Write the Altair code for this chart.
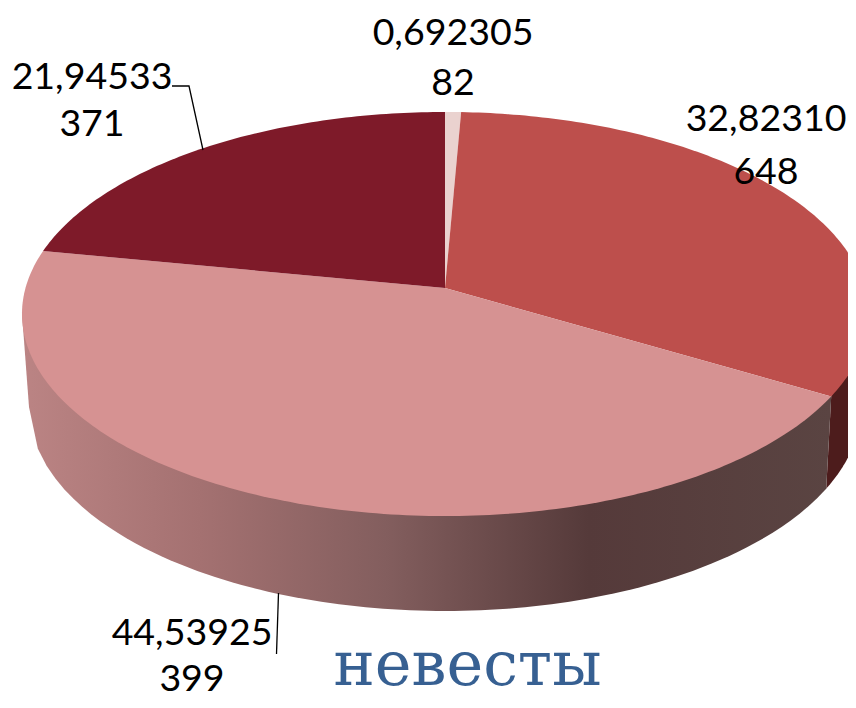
import math
import altair as alt
import pandas as pd

# Data
SHARES = [0.692305, 32.82310, 44.53925, 21.94533]
COUNTS = ["82", "648", "399", "371"]
SHARE_LABELS = ["0,692305", "32,82310", "44,53925", "21,94533"]
TOP_COLORS = ["#ead2cf", "#bd4f4c", "#d69292", "#7e1a29"]
TITLE = "невесты"

# Perspective disc geometry, in the pixel units of the chart's scales
CX, CY = 445.0, 288.0
A, B, C = 419.5, 198.7, 0.1287
BCX, BCY, BRX, BRY = 445.0, 407.0, 416.0, 204.0


def rim(turn):
    a = math.radians(turn)
    u, v = math.sin(a), math.cos(a)
    d = 1 + C * v
    return CX + A * u / d, CY - B * v / d


def bottom_rim(x):
    r = max(0.0, 1 - ((x - BCX) / BRX) ** 2)
    return x, BCY + BRY * math.sqrt(r)


def frame(points):
    pts = list(points) + [points[0]]
    return pd.DataFrame({"x": [p[0] for p in pts], "y": [p[1] for p in pts], "o": range(len(pts))})


X = alt.X("x:Q", scale=alt.Scale(domain=[8, 848]), axis=None)
Y = alt.Y("y:Q", scale=alt.Scale(domain=[700, 8]), axis=None)


def poly(points, fill):
    return (
        alt.Chart(frame(points))
        .mark_line(fill=fill, stroke="transparent", strokeWidth=0, interpolate="linear", clip=True)
        .encode(x=X, y=Y, order="o:Q")
    )


total = sum(SHARES)
edges = [0.0]
for s in SHARES:
    edges.append(edges[-1] + s / total * 360)

# Side walls
pink_start = rim(edges[2])
wall_x_right = pink_start[0] - 5
n = 90
bottom_arc = [bottom_rim(wall_x_right + (BCX - BRX - wall_x_right) * i / n) for i in range(n + 1)]
pink_wall_pts = [pink_start] + bottom_arc + [(22, 314)]
pink_gradient = alt.Gradient(
    gradient="linear",
    x1=0, x2=1, y1=0, y2=0,
    stops=[
        alt.GradientStop(color="#bb8484", offset=0),
        alt.GradientStop(color="#a47171", offset=0.22),
        alt.GradientStop(color="#835e5e", offset=0.45),
        alt.GradientStop(color="#553a3a", offset=0.70),
        alt.GradientStop(color="#5a4442", offset=1),
    ],
)
pink_wall = poly(pink_wall_pts, pink_gradient)

dark_arc = [bottom_rim(wall_x_right + (BCX + BRX - wall_x_right) * i / 30) for i in range(31)]
dark_wall = poly([pink_start] + dark_arc + [(868, 314)], "#4d1c1c")

# Top faces
faces = []
for i, col in enumerate(TOP_COLORS):
    steps = max(4, int(SHARES[i] * 4))
    arc = [rim(edges[i] + (edges[i + 1] - edges[i]) * k / steps) for k in range(steps + 1)]
    faces.append(poly([(CX, CY)] + arc, col))

# Leader lines
leader_a = (
    alt.Chart(pd.DataFrame({"x": [172, 189, 203], "y": [86, 86, 150], "o": [0, 1, 2]}))
    .mark_line(color="#000000", strokeWidth=1.3)
    .encode(x=X, y=Y, order="o:Q")
)
leader_b = (
    alt.Chart(pd.DataFrame({"x": [278.5, 276.5], "y": [593, 654], "o": [0, 1]}))
    .mark_line(color="#000000", strokeWidth=1.3)
    .encode(x=X, y=Y, order="o:Q")
)

# Labels
label_x = [453, 766, 192, 92]
share_y = [34, 120, 634, 78]
count_y = [84, 173, 680, 125]
labels = pd.DataFrame(
    {
        "x": label_x + label_x,
        "y": share_y + count_y,
        "t": SHARE_LABELS + COUNTS,
    }
)
text = (
    alt.Chart(labels)
    .mark_text(font="Lato", fontSize=37.5, color="#000000", align="center", baseline="middle")
    .encode(x=X, y=Y, text="t:N")
)

title = (
    alt.Chart(pd.DataFrame({"x": [467.5], "y": [685], "t": [TITLE]}))
    .mark_text(font="DejaVu Serif", fontSize=62, color="#376092", align="center", baseline="alphabetic")
    .encode(x=X, y=Y, text="t:N")
)

chart = (
    alt.layer(dark_wall, pink_wall, *faces, leader_a, leader_b, text, title)
    .properties(width=840, height=692, padding=0, autosize=alt.AutoSizeParams(type="none"), background="#ffffff")
    .configure_view(stroke=None)
)
chart.save("out.html", embed_options={"renderer": "svg", "actions": False})
